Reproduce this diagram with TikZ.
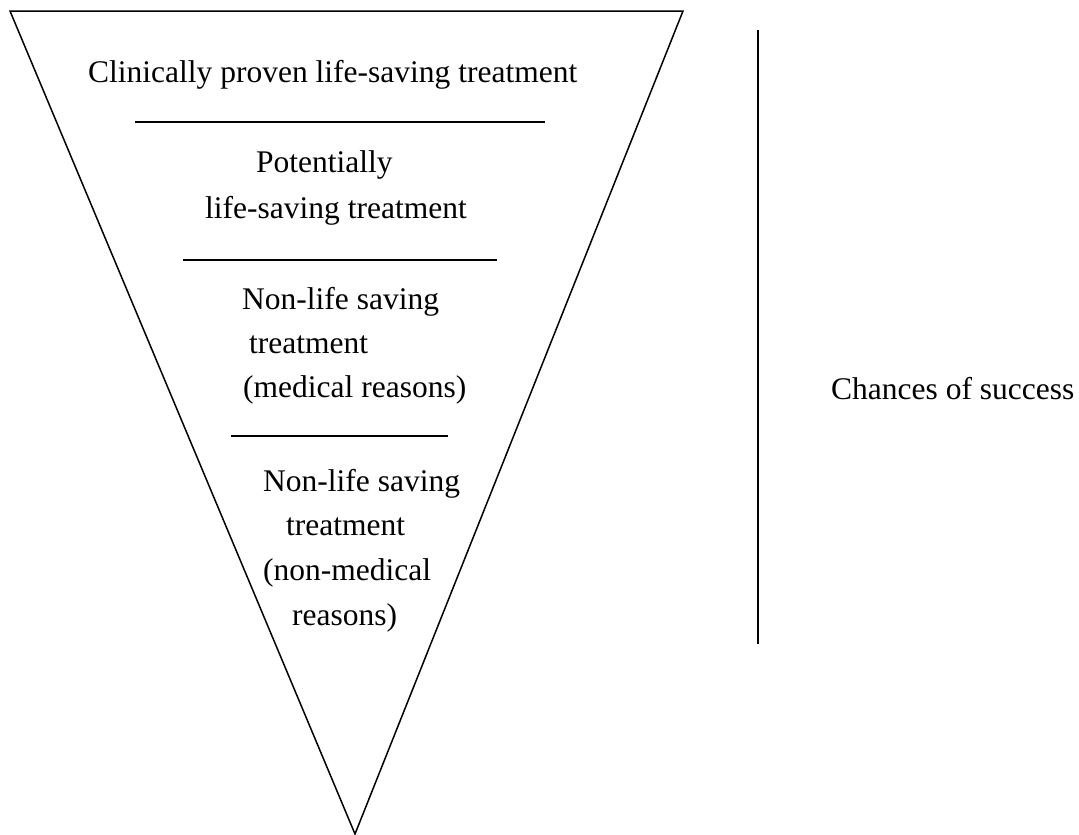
\documentclass[tikz,border=0pt]{standalone}
\usepackage{fontspec}
\setmainfont{Liberation Serif}
\begin{document}
\begin{tikzpicture}[x=1pt,y=-1pt,
  txt/.style={anchor=base west,inner sep=0pt,font=\fontsize{31.5}{38}\selectfont},
  rule/.style={line width=1.8pt},
  edge/.style={line width=1.5pt,line join=miter}]
\useasboundingbox (0,0) rectangle (1079,835);
% funnel
\coordinate (tl) at (10,11);
\coordinate (tr) at (683,11);
\coordinate (ap) at (355,834);
\draw[edge] (tl) -- (tr) -- (ap) -- cycle;
% separators
\coordinate (s1a) at (135,122); \coordinate (s1b) at (545,122);
\coordinate (s2a) at (183,260); \coordinate (s2b) at (497,260);
\coordinate (s3a) at (231,436); \coordinate (s3b) at (448,436);
\draw[rule] (s1a) -- (s1b);
\draw[rule] (s2a) -- (s2b);
\draw[rule] (s3a) -- (s3b);
% axis line
\coordinate (va) at (758,30); \coordinate (vb) at (758,644);
\draw[line width=2.6pt] (va) -- (vb);
% texts
\node[txt] (t1) at (88,82) {Clinically proven life-saving treatment};
\node[txt] (t2a) at (256,172) {Potentially};
\node[txt] (t2b) at (205,218) {life-saving treatment};
\node[txt] (t3a) at (242,309) {Non-life saving};
\node[txt] (t3b) at (249,353) {treatment};
\node[txt] (t3c) at (243,397) {(medical reasons)};
\node[txt] (t4a) at (263,491) {Non-life saving};
\node[txt] (t4b) at (286,535) {treatment};
\node[txt] (t4c) at (263,580) {(non-medical};
\node[txt] (t4d) at (292,625) {reasons)};
\node[txt] (cs) at (831,399) {Chances of success};
\end{tikzpicture}
\end{document}
